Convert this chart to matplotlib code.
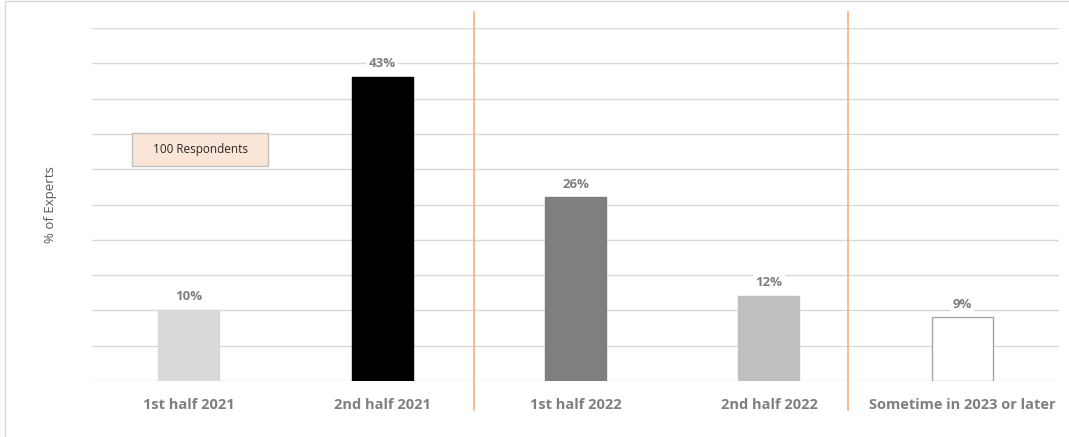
import matplotlib.pyplot as plt
from matplotlib.patches import Rectangle

# Data
categories = ['1st half 2021', '2nd half 2021', '1st half 2022', '2nd half 2022',
              'Sometime in 2023 or later']
values = [10, 43, 26, 12, 9]
bar_colors = ['#d9d9d9', '#000000', '#7f7f7f', '#bfbfbf', '#ffffff']
edge_colors = ['#d9d9d9', '#000000', '#7f7f7f', '#bfbfbf', '#a6a6a6']
divider_x = [1.477, 3.408]

plt.rcParams['font.family'] = ['Open Sans', 'DejaVu Sans']

fig = plt.figure(figsize=(10.69, 4.37), dpi=100)
ax = fig.add_axes([0.0861, 0.1281, 0.9046, 0.8078])

x = range(len(categories))
bars = ax.bar(x, values, width=0.315, color=bar_colors, edgecolor=edge_colors,
              linewidth=1, zorder=3)

ax.set_xlim(-0.5, len(categories) - 0.5)
ax.set_ylim(0, 50)
ax.set_yticks(range(0, 51, 5))
ax.yaxis.grid(True, color='#d9d9d9', linewidth=1)
ax.set_axisbelow(True)
ax.tick_params(axis='y', left=False, labelleft=False)
ax.tick_params(axis='x', bottom=False, pad=9)
ax.set_xticks(list(x))
ax.set_xticklabels(categories, fontsize=10.5, fontweight='bold', color='#7f7f7f')
for s in ['top', 'right', 'left', 'bottom']:
    ax.spines[s].set_visible(False)

ax.set_ylabel('% of Experts', fontsize=9.5, color='#595959', labelpad=25)

# value labels
for b, v in zip(bars, values):
    ax.annotate(f'{v}%', (b.get_x() + b.get_width() / 2, v), xytext=(0, 5),
                textcoords='offset points', ha='center', va='bottom',
                fontsize=9.5, fontweight='bold', color='#7f7f7f', zorder=4,
                bbox=dict(facecolor='white', edgecolor='none', pad=1.5))

# orange dividers
for dx in divider_x:
    ax.plot([dx, dx], [-0.082, 1.045], color='#f4b183', linewidth=1.2,
            transform=ax.get_xaxis_transform(), clip_on=False, zorder=2)

# respondents box
ax.add_patch(Rectangle((-0.293, 30.4), 0.705, 4.7, facecolor='#fbe5d6',
                       edgecolor='#bfbfbf', linewidth=1, zorder=4.5))
ax.text(0.06, 32.75, '100 Respondents', fontsize=8.5, color='#262626',
        ha='center', va='center', zorder=5)

# outer frame
fig.patches.append(Rectangle((5 / 1069, -0.1), 1.2, (436 / 437) + 0.1,
                             transform=fig.transFigure, fill=False,
                             edgecolor='#d9d9d9', linewidth=1))

plt.savefig('out.png', dpi=100)
plt.close()
